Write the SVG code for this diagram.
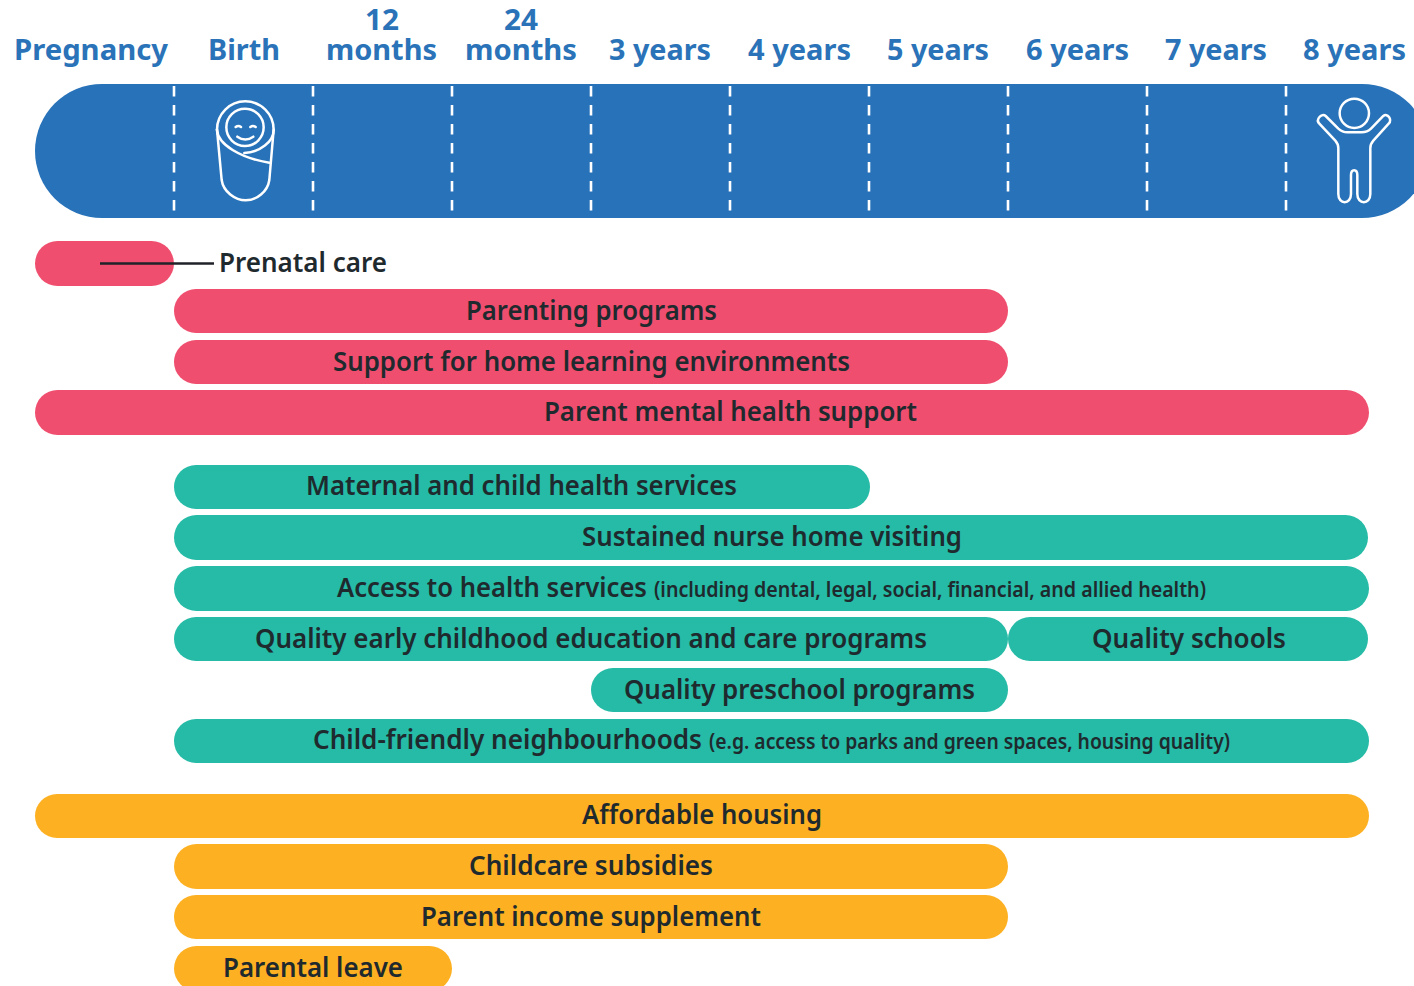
<svg xmlns="http://www.w3.org/2000/svg" width="1414" height="986" viewBox="0 0 1414 986">
<style>
text{font-family:"Noto Sans","Open Sans","Liberation Sans",sans-serif;font-weight:600;fill:#1f2a2e;font-size:27px}
.h{font-weight:700;fill:#2a73b8;font-size:29px;text-anchor:start}
.s{font-size:21px}
.p{fill:#f04e6e}.g{fill:#25bba6}.o{fill:#fdb122}
.d{stroke:#fff;stroke-width:2.6;stroke-dasharray:10.5 8.5;stroke-dashoffset:17;fill:none}
.i{stroke:#fff;stroke-width:7.5;fill:none;stroke-linecap:round;stroke-linejoin:round}
</style>
<rect width="1414" height="986" fill="#fff"/>
<g id="header">
<text class="h" x="14" y="60" textLength="154" lengthAdjust="spacingAndGlyphs">Pregnancy</text>
<text class="h" x="208" y="60" textLength="72" lengthAdjust="spacingAndGlyphs">Birth</text>
<text class="h" x="365" y="30" textLength="34" lengthAdjust="spacingAndGlyphs">12</text>
<text class="h" x="326" y="60" textLength="111" lengthAdjust="spacingAndGlyphs">months</text>
<text class="h" x="504" y="30" textLength="34" lengthAdjust="spacingAndGlyphs">24</text>
<text class="h" x="465" y="60" textLength="112" lengthAdjust="spacingAndGlyphs">months</text>
<text class="h" x="609" y="60" textLength="102" lengthAdjust="spacingAndGlyphs">3 years</text>
<text class="h" x="748" y="60" textLength="103" lengthAdjust="spacingAndGlyphs">4 years</text>
<text class="h" x="887" y="60" textLength="102" lengthAdjust="spacingAndGlyphs">5 years</text>
<text class="h" x="1026" y="60" textLength="103" lengthAdjust="spacingAndGlyphs">6 years</text>
<text class="h" x="1165" y="60" textLength="102" lengthAdjust="spacingAndGlyphs">7 years</text>
<text class="h" x="1303" y="60" textLength="103" lengthAdjust="spacingAndGlyphs">8 years</text>
</g>
<g id="timeline">
<rect x="35" y="84" width="1394" height="134" rx="67" fill="#2872b9"/>
<path class="d" d="M174 84V218M313 84V218M452 84V218M591 84V218M730 84V218M869 84V218M1008 84V218M1147 84V218M1286 84V218"/>
</g>
<g id="baby" transform="translate(205 95) scale(.3333)">
<circle class="i" cx="120" cy="97" r="56"/>
<path class="i" d="M36 104A85 85 0 0 1 206 104C206 140 165 172 118 174"/>
<path class="i" d="M36 104C38 150 110 190 193 203"/>
<path class="i" d="M36 104L50 255C55 290 90 316 122 316C155 316 188 290 193 255L206 104"/>
<path class="i" d="M92 96Q100 90 108 96M136 96Q144 90 152 96M97 125Q121 142 145 125"/>
</g>
<g id="child" transform="translate(1270 80) scale(.3333)">
<circle class="i" cx="253" cy="100" r="44"/>
<path class="i" d="M167 108L205 146Q217 157 232 157H275Q292 157 303 146L340 108C352 98 368 118 356 131L310 182Q301 192 301 205V342C301 375 262 375 262 342V285C262 266 243 266 243 285V342C243 375 205 375 205 342V205Q205 192 196 182L148 131C136 118 155 98 167 108Z"/>
</g>
<g id="prenatal"><rect class="p" x="35" y="241" width="139" height="45" rx="22.500"/><text x="219" y="272" textLength="168" lengthAdjust="spacingAndGlyphs">Prenatal care</text></g>
<g id="connectors">
<path d="M100 263.500H214" stroke="#1f2228" stroke-width="2.600" fill="none"/>
</g>
<g id="parenting"><rect class="p" x="174" y="289" width="834" height="44" rx="22"/><text x="466" y="320" textLength="251" lengthAdjust="spacingAndGlyphs">Parenting programs</text></g>
<g id="home-learning"><rect class="p" x="174" y="340" width="834" height="44" rx="22"/><text x="333" y="371" textLength="517" lengthAdjust="spacingAndGlyphs">Support for home learning environments</text></g>
<g id="mental-health"><rect class="p" x="35" y="390" width="1334" height="45" rx="22.500"/><text x="544" y="421" textLength="373" lengthAdjust="spacingAndGlyphs">Parent mental health support</text></g>
<g id="maternal"><rect class="g" x="174" y="465" width="696" height="44" rx="22"/><text x="306" y="495" textLength="431" lengthAdjust="spacingAndGlyphs">Maternal and child health services</text></g>
<g id="nurse"><rect class="g" x="174" y="515" width="1194" height="45" rx="22.500"/><text x="582" y="546" textLength="380" lengthAdjust="spacingAndGlyphs">Sustained nurse home visiting</text></g>
<g id="health-services"><rect class="g" x="174" y="566" width="1195" height="45" rx="22.500"/><text x="337" y="597" textLength="310" lengthAdjust="spacingAndGlyphs">Access to health services</text><text class="s" x="654" y="597" textLength="552" lengthAdjust="spacingAndGlyphs">(including dental, legal, social, financial, and allied health)</text></g>
<g id="ecec"><rect class="g" x="174" y="617" width="834" height="44" rx="22"/><text x="255" y="648" textLength="672" lengthAdjust="spacingAndGlyphs">Quality early childhood education and care programs</text></g>
<g id="schools"><rect class="g" x="1008" y="617" width="360" height="44" rx="22"/><text x="1092" y="648" textLength="194" lengthAdjust="spacingAndGlyphs">Quality schools</text></g>
<g id="preschool"><rect class="g" x="591" y="668" width="417" height="44" rx="22"/><text x="624" y="699" textLength="351" lengthAdjust="spacingAndGlyphs">Quality preschool programs</text></g>
<g id="neighbourhoods"><rect class="g" x="174" y="719" width="1195" height="44" rx="22"/><text x="313" y="749" textLength="389" lengthAdjust="spacingAndGlyphs">Child-friendly neighbourhoods</text><text class="s" x="709" y="749" textLength="521" lengthAdjust="spacingAndGlyphs">(e.g. access to parks and green spaces, housing quality)</text></g>
<g id="housing"><rect class="o" x="35" y="794" width="1334" height="44" rx="22"/><text x="582" y="824" textLength="240" lengthAdjust="spacingAndGlyphs">Affordable housing</text></g>
<g id="subsidies"><rect class="o" x="174" y="844" width="834" height="45" rx="22.500"/><text x="469" y="875" textLength="244" lengthAdjust="spacingAndGlyphs">Childcare subsidies</text></g>
<g id="income"><rect class="o" x="174" y="895" width="834" height="44" rx="22"/><text x="421" y="926" textLength="340" lengthAdjust="spacingAndGlyphs">Parent income supplement</text></g>
<g id="leave"><rect class="o" x="174" y="946" width="278" height="45" rx="22.500"/><text x="223" y="977" textLength="180" lengthAdjust="spacingAndGlyphs">Parental leave</text></g>
</svg>
